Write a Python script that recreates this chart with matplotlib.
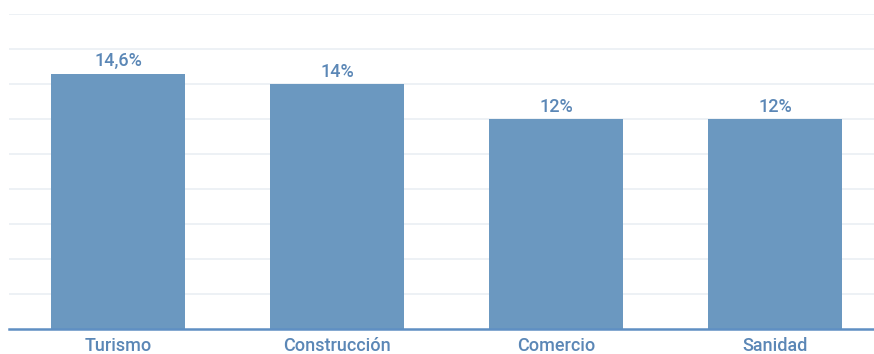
import matplotlib
matplotlib.use("Agg")
import matplotlib.pyplot as plt

categories = ["Turismo", "Construcción", "Comercio", "Sanidad"]
values = [14.6, 14, 12, 12]
value_labels = ["14,6%", "14%", "12%", "12%"]
grid_levels = [2, 4, 6, 8, 10, 12, 14, 16, 18]

bar_color = "#6b98c0"
text_color = "#5b87b6"
axis_color = "#5f8fc3"
grid_color = "#e8edf3"

plt.rcParams["font.family"] = ["Roboto", "DejaVu Sans"]

fig = plt.figure(figsize=(8.74, 3.54), dpi=100)
W, H = 874, 354
left_px, right_px = 8.5, 884.5
bottom_px, top_px = 329, 14
ax = fig.add_axes([left_px / W, (H - bottom_px) / H,
                   (right_px - left_px) / W, (bottom_px - top_px) / H])

x = range(len(categories))
ax.bar(x, values, width=0.61, color=bar_color, zorder=3)

for yv in grid_levels:
    ax.axhline(yv, color=grid_color, linewidth=1.1, zorder=1)

ax.set_xlim(-0.5, len(categories) - 0.5)
ax.set_ylim(0, 18)

for xi, v, lab in zip(x, values, value_labels):
    ax.annotate(lab, (xi, v), xytext=(0, 2.5), textcoords="offset points",
                ha="center", va="bottom", fontsize=13, fontweight="medium",
                color=text_color, zorder=4)

ax.set_xticks(list(x))
ax.set_xticklabels(categories, fontsize=13, fontweight="medium", color=text_color)
ax.tick_params(axis="x", length=0, pad=6)
ax.set_yticks([])

for side in ["top", "right", "left"]:
    ax.spines[side].set_visible(False)
ax.spines["bottom"].set_color(axis_color)
ax.spines["bottom"].set_linewidth(1.8)
ax.spines["bottom"].set_zorder(5)

fig.savefig("out.png", dpi=100)
